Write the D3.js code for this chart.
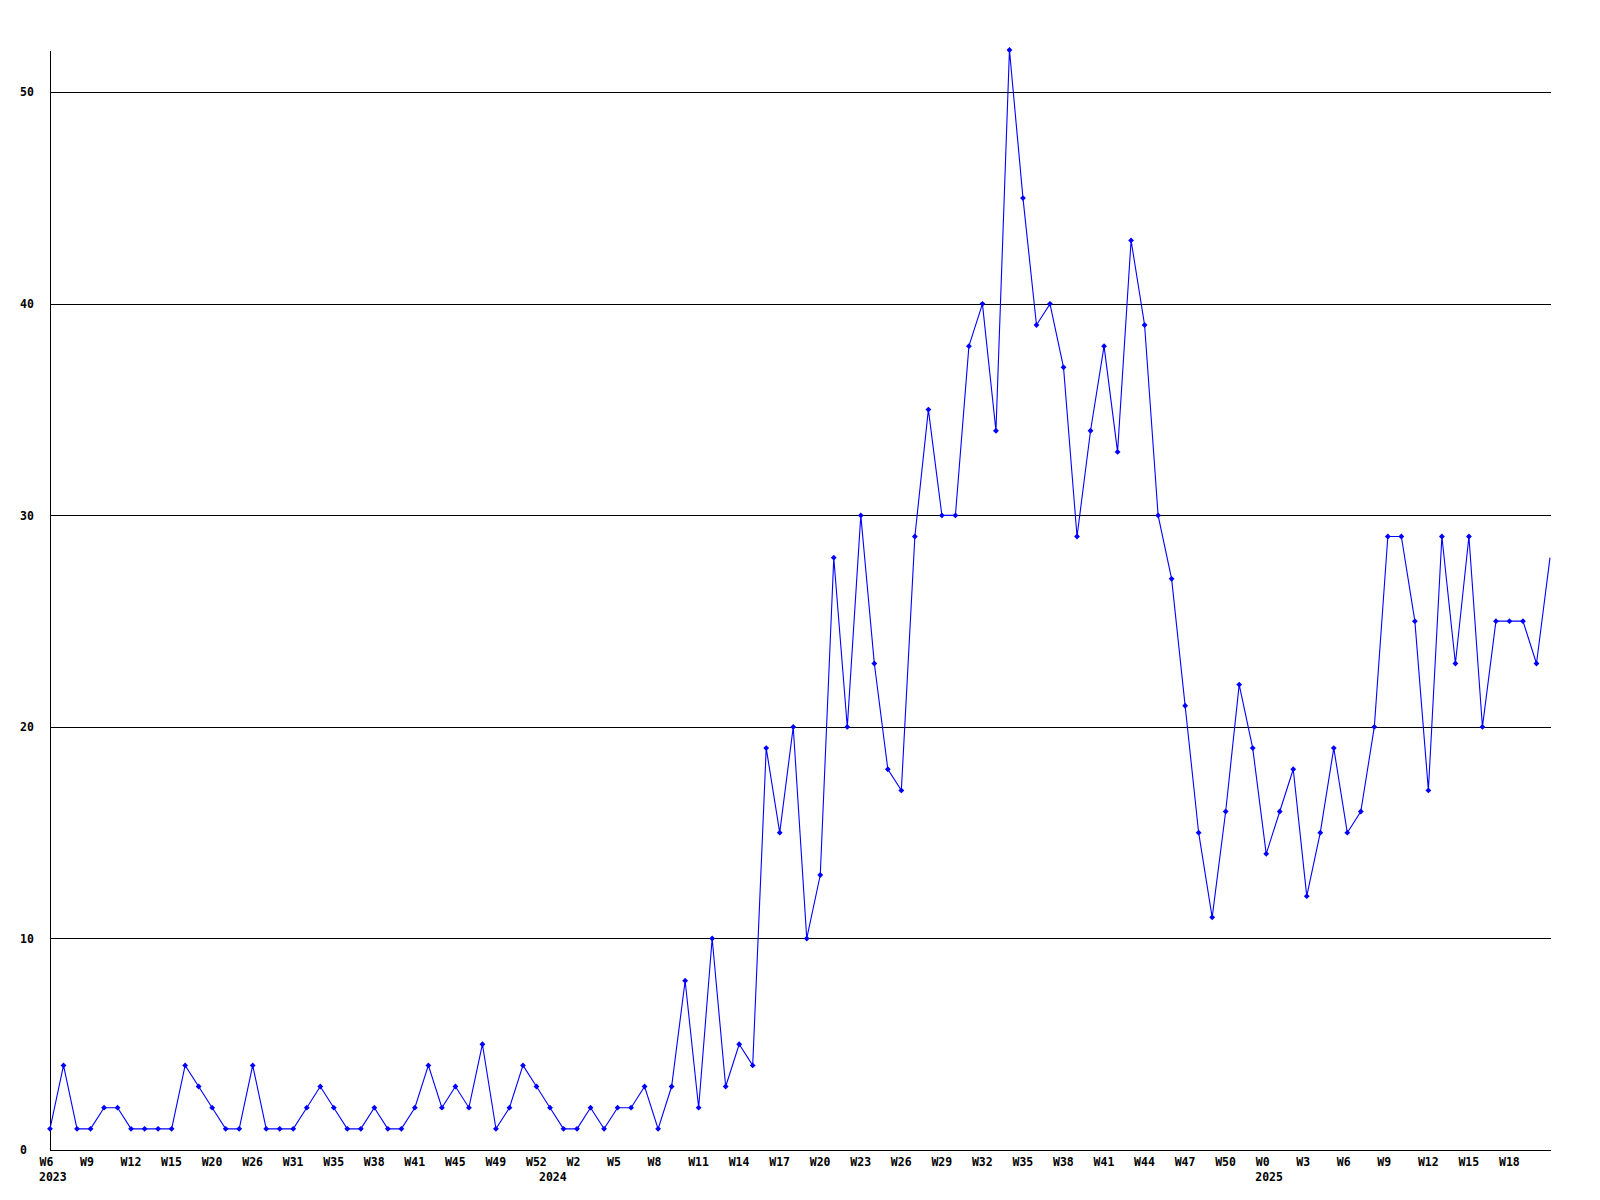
<!DOCTYPE html>
<html>
<head>
<meta charset="utf-8">
<script src="https://cdn.jsdelivr.net/npm/d3@7"></script>
<style>
  html, body { margin: 0; padding: 0; background: #fff; }
  svg { display: block; }
  text { font-family: "DejaVu Sans Mono", "Liberation Mono", monospace; font-weight: bold; font-size: 11.5px; fill: #000; }
</style>
</head>
<body>
<svg id="chart" width="1600" height="1200"></svg>
<script>
// Weekly counts, one per point (2023 W6 ... 2025 W21)
const values = [
  1,4,1,1,2,2,1,1,1,1,
  4,3,2,1,1,4,1,1,1,2,
  3,2,1,1,2,1,1,2,4,2,
  3,2,5,1,2,4,3,2,1,1,
  2,1,2,2,3,1,3,8,2,10,
  3,5,4,19,15,20,10,13,28,20,
  30,23,18,17,29,35,30,30,38,40,
  34,52,45,39,40,37,29,34,38,33,
  43,39,30,27,21,15,11,16,22,19,
  14,16,18,12,15,19,15,16,20,29,
  29,25,17,29,23,29,20,25,25,25,
  23,28
];
// Week tick labels, shown on every third point
const tickLabels = [
  "W6","W9","W12","W15","W20","W26","W31","W35","W38","W41","W45","W49","W52",
  "W2","W5","W8","W11","W14","W17","W20","W23","W26","W29","W32","W35","W38","W41","W44","W47","W50",
  "W0","W3","W6","W9","W12","W15","W18"
];
const tickStep = 3;
// Year labels and the point where each year starts
const yearLabels = ["2023", "2024", "2025"];
const yearStarts = [0, 37, 90];
const yTicks = [0, 10, 20, 30, 40, 50];
const yMax = 52;

(function () {
  const svg = d3.select("#chart");
  const mLeft = 50, mRight = 1550, mTop = 50, mBottom = 1150;

  const x = d3.scaleLinear().domain([0, values.length - 1]).range([mLeft, mRight]);
  const y = d3.scaleLinear().domain([0, yMax]).range([mBottom, mTop]);

  // gridlines
  svg.append("g")
    .selectAll("line")
    .data(yTicks.filter(v => v > 0))
    .join("line")
    .attr("x1", mLeft).attr("x2", mRight + 1)
    .attr("y1", d => Math.round(y(d)) + 0.5)
    .attr("y2", d => Math.round(y(d)) + 0.5)
    .attr("stroke", "#000").attr("stroke-width", 1)
    .attr("shape-rendering", "crispEdges");

  // x axis
  const xAxis = svg.append("g")
    .attr("transform", `translate(0,${mBottom})`)
    .call(d3.axisBottom(x)
      .tickValues(d3.range(0, values.length, tickStep).slice(0, tickLabels.length))
      .tickFormat((d, i) => tickLabels[i])
      .tickSize(0)
      .tickSizeOuter(0));
  xAxis.attr("font-family", null).attr("font-size", null);
  xAxis.select(".domain").attr("stroke", "#000").attr("shape-rendering", "crispEdges");
  xAxis.selectAll(".tick text")
    .attr("text-anchor", "start")
    .attr("x", -11).attr("y", 16).attr("dy", null);

  // year labels
  svg.append("g")
    .selectAll("text")
    .data(yearLabels)
    .join("text")
    .attr("x", (d, i) => x(yearStarts[i]) - 11)
    .attr("y", mBottom + 31)
    .text(d => d);

  // y axis
  const yAxis = svg.append("g")
    .attr("transform", `translate(${mLeft},0)`)
    .call(d3.axisLeft(y).tickValues(yTicks).tickFormat(d3.format("d")).tickSize(0).tickSizeOuter(0));
  yAxis.attr("font-family", null).attr("font-size", null);
  yAxis.select(".domain").attr("stroke", "#000").attr("shape-rendering", "crispEdges");
  yAxis.selectAll(".tick text")
    .attr("text-anchor", "start")
    .attr("x", -30);

  // line
  svg.append("path")
    .datum(values)
    .attr("fill", "none")
    .attr("stroke", "#0000ff")
    .attr("stroke-width", 1.1)
    .attr("d", d3.line().x((d, i) => x(i)).y(d => y(d)));

  // markers (last point sits on the plot edge and has none)
  const marker = d3.symbol().type(d3.symbolSquare).size(17);
  svg.append("g")
    .selectAll("path")
    .data(values.slice(0, values.length - 1))
    .join("path")
    .attr("d", marker)
    .attr("fill", "#0000ff")
    .attr("transform", (d, i) => `translate(${x(i)},${y(d)}) rotate(45)`);
})();
</script>
</body>
</html>
